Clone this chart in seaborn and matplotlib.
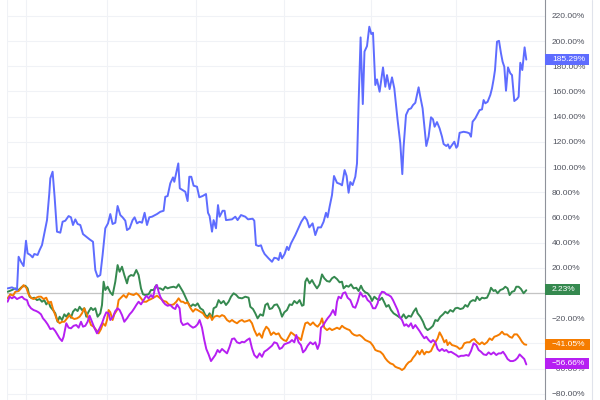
import pandas as pd
import matplotlib
matplotlib.use("Agg")
import matplotlib.pyplot as plt
import seaborn as sns
from matplotlib.patches import Rectangle
from matplotlib.transforms import IdentityTransform
from matplotlib.lines import Line2D

# percent change series (t = trading-day index)
blue_t = [0.3, 4.7, 9.7, 11.3, 13.7, 16.3, 18.7, 20.3, 23, 25.3, 27, 30.3, 32.3, 34.7, 37, 39.7, 42, 43, 45.3, 47.3,
          49.7, 53, 55.3, 58, 61.3, 63.7, 65.7, 68, 70.3, 73, 75.7, 79, 82.3, 85.7, 88, 90.3, 93, 95.3, 98, 100.7,
          103, 105.3, 108, 110.3, 113, 115.3, 118, 119.7, 122.3, 125.3, 127.3, 129.7, 132.3, 134.7, 137.3, 139.7, 142, 144.7, 149.7, 153,
          156.3, 158, 160.3, 163, 165.7, 167, 171, 172.5, 178, 180.3, 182, 184, 186.3, 189.7, 192, 195.3, 198.7, 200.7, 202.3, 204.7,
          206.3, 208.7, 210.7, 212.3, 215.3, 217.3, 218.7, 224.7, 228, 230.3, 233.7, 238, 240.7, 245.3, 247, 248.7, 251.3, 253.7, 255.3, 257.3,
          261.3, 264.7, 267, 269.7, 271.3, 273, 274.7, 277.3, 279.7, 281.3, 283.7, 288, 292, 294, 297.3, 299.7, 302, 305.3, 308, 310.7,
          313.7, 316.3, 318.7, 320.3, 322.3, 324.7, 326.7, 329.7, 333, 334.7, 337.3, 339.3, 341.3, 343, 345.3, 348, 349.7, 351.3, 353.3, 355.5,
          357.2, 359.7, 362, 364, 365.7, 368, 369.7, 372.3, 375.7, 378, 379.7, 382.3, 384.7, 387, 390.3, 393, 395, 396.3, 398.7, 401.3,
          403.7, 405.7, 408, 411.3, 413, 415.3, 419, 421.3, 423.7, 425.7, 427.3, 429.7, 432.3, 434.7, 436.3, 439, 440.7, 442.3, 444.7, 447,
          449, 450.3, 452.3, 456.3, 459.7, 462, 463.7, 465.3, 468, 470.3, 472.3, 474.7, 476.3, 478, 480.3, 483, 484.7, 486.3, 487.7, 489.7,
          491.7, 493.7, 495.3, 497, 498.7, 500.7, 503, 504.7, 507, 509.7, 511.3, 513, 515, 517.3, 519]
blue_pct = [3.7, 4.5, 2.4, 28.8, 24.8, 21.4, 41.5, 31.5, 30.2, 28.3, 31.0, 30.2, 34.1, 38.1, 47.4, 57.9, 79.1, 91.0, 96.3, 76.4,
            48.7, 47.9, 56.6, 57.4, 61.1, 60.1, 54.0, 58.5, 54.8, 54.0, 46.8, 44.7, 42.6, 40.7, 18.3, 12.9, 14.3, 30.2, 51.4, 55.3,
            62.7, 54.8, 55.8, 69.1, 61.9, 60.1, 57.4, 50.0, 51.4, 57.9, 60.1, 55.3, 56.6, 55.8, 63.7, 54.0, 60.1, 60.6, 62.7, 64.5,
            65.3, 76.4, 77.0, 87.1, 91.8, 88.3, 102.9, 83.1, 80.4, 73.0, 92.3, 92.3, 85.2, 84.4, 76.0, 77.0, 78.6, 63.7, 61.1, 48.7,
            57.9, 51.4, 69.8, 60.6, 65.3, 65.3, 57.9, 58.5, 60.6, 57.9, 61.9, 60.6, 58.5, 59.0, 57.4, 38.1, 37.3, 37.9, 34.1, 31.0,
            27.5, 24.8, 28.0, 27.5, 26.2, 32.0, 27.5, 31.0, 36.7, 34.1, 39.4, 46.0, 53.2, 56.6, 60.6, 57.9, 52.1, 55.3, 46.0, 52.1,
            52.1, 56.6, 63.7, 60.1, 68.5, 77.8, 92.9, 87.5, 86.5, 85.5, 97.6, 92.9, 79.6, 88.1, 85.7, 92.3, 102.9, 150.6, 202.9, 150.0,
            191.7, 196.0, 211.4, 205.6, 206.6, 165.1, 169.6, 159.8, 179.1, 163.7, 173.0, 161.9, 171.2, 162.5, 137.3, 118.8, 94.4, 116.1, 141.3, 145.8,
            146.6, 149.2, 151.0, 163.3, 155.8, 146.6, 116.7, 124.1, 139.5, 137.9, 132.0, 135.7, 130.7, 124.1, 118.3, 116.7, 118.0, 114.8, 117.5, 120.1,
            115.3, 116.7, 127.2, 128.0, 127.5, 126.8, 124.1, 136.0, 138.7, 142.1, 145.2, 145.8, 153.2, 150.6, 151.8, 157.2, 162.5, 169.6, 177.0, 199.5,
            200.2, 190.2, 183.6, 179.6, 160.6, 179.1, 174.4, 173.0, 152.4, 154.0, 155.8, 182.8, 177.0, 195.0, 185.29]

green_t = [0.3, 4.7, 8, 11.3, 14.7, 18, 20.3, 22.3, 24.7, 27, 29.7, 32.3, 34.7, 37, 39, 41.3, 43, 45.7, 48, 50.3,
           52.3, 54.7, 57, 59, 61.3, 63.7, 65.7, 68, 70.3, 72.3, 74.7, 77, 79, 81.3, 83.7, 85.7, 88, 90.3, 93, 94.7,
           96.3, 98, 100.3, 103, 105.3, 108, 110.3, 112.3, 114.7, 117, 119.7, 121.3, 123.7, 126.3, 129, 131.3, 133.7, 135.7, 138, 141.3,
           143.7, 146.3, 149, 150.3, 153, 155.7, 158, 160.3, 163, 166.3, 169, 171.3, 173.7, 175.7, 178, 180.3, 183, 185.7, 188, 190.3,
           193, 195.7, 198, 200.3, 202.3, 204.7, 206.3, 209, 211.3, 213.7, 216.3, 218.7, 221.3, 223.7, 226.3, 229, 231.3, 234.7, 238, 241.3,
           243, 245.7, 248, 250.3, 253, 255.7, 258, 260.3, 262.3, 264.7, 267, 269.7, 272.3, 274.7, 277, 279.7, 282.3, 284.7, 287, 289.7,
           292.3, 294.7, 296.3, 298, 299.7, 302.3, 304.7, 307, 309.7, 312.3, 314.7, 317, 319.7, 322.3, 324.7, 327, 329.7, 332.3, 334.7, 336.3,
           339, 341.3, 343.7, 346.3, 349, 351.3, 353.7, 355.7, 358, 360.3, 363, 364.7, 367, 369.7, 372.3, 374.7, 377, 379, 381.3, 383.7,
           386.3, 389, 391.3, 393.7, 396.3, 398.7, 401.3, 403.7, 406.3, 408.7, 410.3, 413, 415.7, 418, 420.3, 423, 425.7, 428, 430.3, 433,
           435.7, 438, 440.3, 443, 445.7, 448, 450.3, 453, 455.7, 458, 460.3, 463, 465.7, 468, 469.7, 472.3, 474.7, 477, 479.7, 482.3,
           483.7, 486.3, 488, 490.3, 493, 495.7, 498, 500.3, 502.3, 504.7, 507, 509, 511.3, 513.7, 516.3, 519]
green_pct = [1.0, 2.4, 3.7, 2.4, 5.0, 5.8, 3.7, -2.9, -4.2, -3.7, -5.6, -4.8, -6.9, -5.6, -9.0, -6.9, -10.9, -13.5, -16.1, -22.8,
             -18.8, -21.4, -16.9, -18.8, -16.1, -19.6, -14.8, -12.7, -14.3, -10.9, -13.5, -12.1, -18.8, -14.8, -11.7, -13.5, -12.1, -18.8, -16.1, -9.5,
             9.0, 2.4, 5.0, 0.6, -1.6, 9.0, 22.2, 16.9, 20.9, 14.3, 7.7, 12.9, 14.3, 13.7, 18.3, 14.3, 3.7, -1.0, -1.6, -1.0,
             2.4, 2.4, 6.3, 3.7, 3.7, 2.4, 5.0, 3.7, 4.5, 5.0, 4.2, 6.9, 3.7, 1.0, -2.9, -6.9, -10.9, -9.0, -10.1, -8.2,
             -12.1, -13.5, -17.5, -18.8, -16.1, -20.1, -12.1, -10.9, -5.6, -8.2, -6.3, -9.5, -6.9, -2.9, -0.2, -1.6, -3.7, -4.2, -2.9, -3.7,
             -10.9, -12.7, -16.1, -20.1, -16.9, -18.0, -9.5, -8.2, -12.7, -12.1, -9.5, -9.0, -12.7, -18.8, -15.3, -13.5, -9.0, -9.5, -6.3, -8.2,
             -5.6, -10.1, -9.5, 9.0, 11.7, 7.7, 10.3, 6.9, 3.7, 6.9, 14.8, 11.7, 9.5, 9.0, 11.7, 12.9, 11.1, 8.5, 9.0, 3.7,
             5.8, 5.0, 6.9, 3.7, 4.2, 1.6, 5.8, 2.4, 0.6, -0.2, -2.9, -6.3, -2.9, -4.8, -5.6, -3.7, -7.4, -10.9, -9.5, -13.5,
             -16.1, -17.5, -18.8, -20.1, -16.9, -20.1, -18.0, -18.8, -14.8, -12.1, -16.1, -18.8, -22.8, -27.5, -29.4, -28.0, -26.0, -21.4, -22.2, -18.8,
             -16.9, -14.8, -16.1, -13.5, -14.8, -12.1, -11.7, -12.7, -12.1, -9.5, -10.9, -6.9, -5.6, -6.3, -2.9, -5.6, -3.7, -4.2, -3.7, 0.6,
             4.2, 1.6, 2.4, -0.2, 2.4, 3.2, 5.0, 3.7, -1.6, 1.0, 1.6, 5.0, 5.0, 3.2, -0.2, 2.23]

orange_t = [0.3, 3, 5.7, 8, 11.3, 13.7, 16.3, 19, 21.3, 23.7, 26.3, 29, 31.3, 33.7, 36.3, 39, 41.3, 43.7, 45.7, 48,
            49.7, 52.3, 54.7, 57, 59.7, 62.3, 64.7, 67, 69.7, 72.3, 74.7, 77, 79, 81.3, 83.7, 86.3, 89, 91.3, 93.7, 95.7,
            98, 99.7, 101.3, 103, 105.3, 107, 109.7, 111.3, 113.7, 116.3, 119, 121.3, 123.7, 126.3, 129, 131.3, 133.7, 136.3, 139, 141.3,
            143.7, 146.3, 149.7, 153, 156.3, 159, 161.3, 163.7, 166.3, 169, 171.3, 173.7, 175.7, 178, 180.3, 183, 185.7, 188, 190.3, 193,
            195.7, 198, 200.3, 203, 204.7, 207, 209.7, 212.3, 214.7, 217, 219.7, 222.3, 224.7, 227, 229.7, 232.3, 234.7, 237, 239.7, 242.3,
            244.7, 247, 249.7, 252, 254.7, 256.3, 259, 261.3, 263.7, 266.3, 268.7, 271.3, 273.7, 276.3, 279, 281.3, 283.7, 286.3, 289, 291.3,
            293.7, 295.7, 298, 300.3, 303, 305.7, 308, 310.3, 313, 314.7, 317, 319.7, 322.3, 324.7, 327, 329.7, 332.3, 334.7, 337, 339.7,
            342.3, 344.7, 347, 349.7, 352.3, 354.7, 358, 360.3, 363, 365.7, 368, 370.3, 373, 375.7, 378, 380.3, 383, 385.7, 388, 390.3,
            392.3, 394.7, 397, 399, 401.3, 403.7, 405.7, 408, 410.3, 412.3, 414.7, 417, 419, 421.3, 423.7, 425.7, 428, 430.3, 432.3, 434.7,
            437, 439, 440.3, 442.3, 444.7, 447, 449.7, 452.3, 454.7, 457, 459.7, 462.3, 464.7, 467, 469.7, 472.3, 474.7, 477, 479.7, 482.3,
            484.7, 487, 489.7, 492.3, 494.7, 497, 499.7, 502.3, 504.7, 507, 509.7, 512.3, 514.7, 517, 519]
orange_pct = [-4.2, -1.0, -2.1, 1.0, 1.6, 3.7, 6.3, 4.2, -1.0, -3.7, -4.8, -3.7, -2.9, -2.9, -4.8, -3.7, -8.2, -6.9, -12.7, -17.5,
              -21.4, -24.0, -22.8, -22.8, -20.1, -17.5, -19.6, -20.6, -20.1, -18.8, -16.1, -12.1, -16.1, -20.1, -25.4, -26.7, -29.4, -32.0, -28.6, -24.0,
              -26.0, -21.4, -13.5, -15.3, -21.4, -16.9, -13.5, -5.6, -3.7, -1.6, -3.7, -0.2, -1.0, -1.6, -0.2, -1.6, -4.2, -6.9, -6.9, -5.6,
              -4.8, -3.7, -2.1, -4.2, -6.3, -6.9, -9.0, -9.5, -9.0, -6.9, -4.2, -6.9, -6.9, -8.2, -7.4, -11.7, -14.8, -12.7, -13.5, -14.8,
              -16.1, -18.8, -20.1, -17.5, -21.4, -18.8, -18.0, -18.8, -17.5, -18.3, -21.4, -22.8, -21.4, -22.8, -24.0, -22.2, -21.4, -22.8, -22.2, -21.4,
              -24.0, -29.4, -33.9, -32.0, -35.5, -30.7, -26.7, -28.6, -33.3, -31.2, -32.8, -32.0, -35.5, -37.3, -38.1, -34.7, -31.2, -32.8, -34.7, -35.5,
              -37.3, -30.7, -24.0, -23.3, -25.4, -23.3, -25.4, -26.7, -24.0, -20.1, -27.5, -29.4, -28.0, -29.4, -28.6, -27.5, -28.6, -26.0, -27.5, -28.6,
              -29.4, -32.0, -33.3, -33.9, -33.3, -34.7, -37.3, -38.1, -39.1, -41.8, -45.2, -46.0, -46.6, -48.7, -51.8, -54.0, -55.8, -56.6, -58.5, -59.3,
              -59.8, -61.1, -59.8, -57.1, -55.0, -54.0, -51.4, -49.2, -46.0, -48.7, -45.2, -48.7, -46.6, -47.1, -46.0, -42.6, -39.1, -36.0, -31.2, -34.7,
              -39.1, -37.3, -41.3, -39.1, -41.3, -41.8, -42.6, -44.4, -43.4, -39.9, -39.1, -39.1, -37.3, -36.5, -39.1, -40.7, -39.1, -40.7, -39.1, -36.0,
              -37.3, -34.7, -33.9, -32.8, -30.7, -32.8, -32.8, -34.7, -35.5, -32.8, -32.8, -35.5, -38.7, -40.7, -41.05]

purple_t = [0.3, 2.3, 4.7, 7, 9.7, 12.3, 14.7, 17, 19.7, 21.3, 23.7, 26.3, 29, 31.3, 33.7, 35.7, 38, 40.3, 43, 45.7,
            48, 50.3, 52.3, 54.7, 56.3, 59, 61.3, 63.7, 66.3, 69, 71.3, 73.7, 75.7, 78, 80.3, 82.3, 84.7, 87, 89.7, 92.3,
            94.7, 97, 99, 101.3, 103, 105.7, 108, 110.3, 112.3, 114.7, 117, 119.7, 122.3, 124.7, 127, 129, 131.3, 133.7, 136.3, 139,
            141.3, 143.7, 145.7, 148, 149.7, 151.3, 153, 155.7, 158, 160.3, 163, 165.7, 168, 169.7, 172.3, 173.7, 175.7, 178, 180.3, 183,
            185.7, 188, 190.3, 192.3, 194.7, 197, 199, 201.3, 203.7, 205.7, 208, 210.3, 212.3, 214.7, 217, 219.7, 222.3, 224.7, 227, 229.7,
            232.3, 234.7, 237, 239.7, 242.3, 244.7, 247, 249.7, 252.3, 254.7, 257, 259.7, 262.3, 264.7, 267, 269.7, 272.3, 274.7, 277, 279.7,
            282.3, 284.7, 287, 289, 291.3, 293.7, 295.7, 298, 300.3, 303, 305.7, 308, 310.3, 312.3, 313.7, 315.7, 318, 320.3, 323, 325.7,
            328, 329.7, 331.3, 333.7, 335.7, 338, 340.3, 343, 345.7, 348, 350.3, 353, 355.7, 358, 360.3, 363, 365.7, 368, 370.3, 372.3,
            374.7, 377, 379, 381.3, 383.7, 385.7, 388, 390.3, 392.3, 394.7, 397, 399, 401.3, 403.7, 405.7, 408, 410.3, 412.3, 414.7, 417,
            419, 421.3, 423.7, 425.7, 428, 430.3, 432.3, 434.7, 437, 439, 441.3, 443.7, 446.3, 449, 451.3, 453.7, 456.3, 459, 461.3, 463.7,
            466.3, 469, 471.3, 473.7, 476.3, 479, 481.3, 483.7, 486.3, 489, 491.3, 493.7, 495.7, 498, 500.3, 503, 505.7, 508, 510.3, 512.3,
            514.7, 517, 519]
purple_pct = [-6.9, -2.9, -4.2, -2.9, -4.8, -3.7, -2.9, -4.8, -5.6, -9.5, -12.1, -13.5, -14.3, -15.3, -16.9, -20.1, -22.2, -24.8, -28.6, -28.0,
              -30.2, -33.3, -35.9, -38.1, -34.7, -24.0, -27.5, -28.0, -26.0, -25.4, -27.5, -22.8, -26.7, -26.0, -22.8, -18.0, -22.8, -27.5, -32.0, -28.0,
              -24.0, -18.8, -15.3, -16.1, -21.4, -18.8, -14.3, -12.1, -13.5, -17.5, -22.8, -20.1, -16.9, -14.8, -12.1, -9.5, -6.9, -9.0, -5.6, -2.1,
              -4.2, -1.6, -3.7, 5.0, 6.3, 1.0, -2.9, -6.9, -9.0, -10.1, -9.5, -11.7, -12.7, -9.0, -12.1, -22.8, -25.4, -24.8, -24.0, -26.0,
              -27.5, -26.7, -24.8, -21.4, -27.5, -37.3, -44.4, -48.7, -54.0, -51.8, -49.2, -45.2, -47.1, -44.4, -46.0, -47.9, -42.6, -36.5, -36.0, -39.1,
              -39.9, -38.7, -39.1, -37.3, -36.0, -43.9, -49.2, -51.4, -47.9, -50.6, -46.6, -45.2, -43.4, -41.8, -39.1, -39.9, -44.4, -43.4, -40.7, -39.9,
              -39.1, -37.3, -39.1, -33.3, -39.1, -41.3, -47.1, -45.2, -41.8, -39.1, -40.7, -39.1, -44.4, -39.9, -27.5, -26.0, -22.8, -20.1, -17.5, -13.5,
              -17.5, -6.9, -2.9, -4.2, -0.2, 0.6, -3.7, -5.6, -10.9, -11.7, -6.9, 0.6, -2.9, -2.1, -5.6, -7.4, -12.1, -12.1, -8.2, -2.1,
              1.0, 0.6, -1.0, -1.6, -2.9, -5.6, -9.5, -13.5, -18.8, -21.4, -26.0, -24.8, -26.7, -24.0, -28.0, -25.4, -28.0, -30.2, -33.3, -35.9,
              -34.7, -37.3, -39.1, -37.3, -39.1, -44.4, -46.0, -44.4, -46.0, -45.2, -47.1, -46.6, -47.9, -49.2, -50.6, -49.8, -49.8, -49.2, -49.8, -46.0,
              -39.9, -41.3, -45.2, -46.6, -48.7, -49.2, -47.1, -48.7, -47.1, -49.2, -47.9, -47.9, -46.6, -49.2, -52.4, -54.0, -54.0, -53.2, -51.4, -48.7,
              -50.6, -52.4, -56.66]

y_ticks = [-80, -60, -40, -20, 0, 20, 40, 60, 80, 100, 120, 140, 160, 180, 200, 220]
grid_t = [0, 19, 100, 189, 277, 364, 449]

colors = {"blue": "#5e6cff", "green": "#35894f", "orange": "#f57c00", "purple": "#b61ff2"}
series = {"green": (green_t, green_pct), "orange": (orange_t, orange_pct),
          "purple": (purple_t, purple_pct), "blue": (blue_t, blue_pct)}

df = pd.concat([pd.DataFrame({"t": t, "pct": v, "series": name}) for name, (t, v) in series.items()],
               ignore_index=True)

sns.set_style("white")
plt.rcParams["font.family"] = ["Liberation Sans", "DejaVu Sans"]

fig = plt.figure(figsize=(6, 4), dpi=100)
ax = fig.add_axes([7 / 600, 0, 538 / 600, 1])
ax.set_xlim(-0.3, 537.7)
ax.set_ylim(-84.9, 232.6)

# light grid + zero line
for xg in grid_t:
    ax.axvline(xg, color="#f0f2f6", lw=0.8, zorder=0)
for yv in y_ticks:
    ax.axhline(yv, color="#f0f2f6", lw=0.8, zorder=0)
ax.axhline(0, color="#c4c4c4", lw=0.9, zorder=1)

sns.lineplot(data=df, x="t", y="pct", hue="series", hue_order=list(series.keys()), palette=colors,
             estimator=None, sort=False, legend=False, linewidth=1.4, ax=ax)

def fmt(v):
    return "" if v == 0 else f"{v:.2f}%".replace("-", "\u2212")

ax.yaxis.tick_right()
ax.set_yticks(y_ticks)
ax.set_yticklabels([fmt(v) for v in y_ticks])
ax.tick_params(axis="y", length=0, pad=5, labelsize=6, labelcolor="#50535e")
ax.set_xticks([])
ax.set_xlabel("")
ax.set_ylabel("")
for s in ["top", "left", "bottom"]:
    ax.spines[s].set_visible(False)
ax.spines["right"].set_color("#8f929b")
ax.spines["right"].set_linewidth(0.8)

# separator on the far right
fig.add_artist(Line2D([592 / 600, 592 / 600], [0, 1], transform=fig.transFigure, color="#e0e3eb", lw=0.8))

# last-value badges on the price scale
fig.canvas.draw()
renderer = fig.canvas.get_renderer()
x_axis = ax.transAxes.transform((1, 0))[0]
for name, (t, v) in series.items():
    last = v[-1]
    y = ax.transData.transform((0, last))[1]
    txt = fig.text(x_axis + 7, y + 0.5, fmt(last), transform=IdentityTransform(), ha="left", va="center",
                   color="white", fontsize=6, zorder=6)
    bb = txt.get_window_extent(renderer)
    fig.add_artist(Rectangle((x_axis, y - 5), bb.x1 + 4 - x_axis, 11, transform=IdentityTransform(),
                             facecolor=colors[name], edgecolor="none", zorder=5))

fig.savefig("out.png", dpi=100, facecolor="white")
